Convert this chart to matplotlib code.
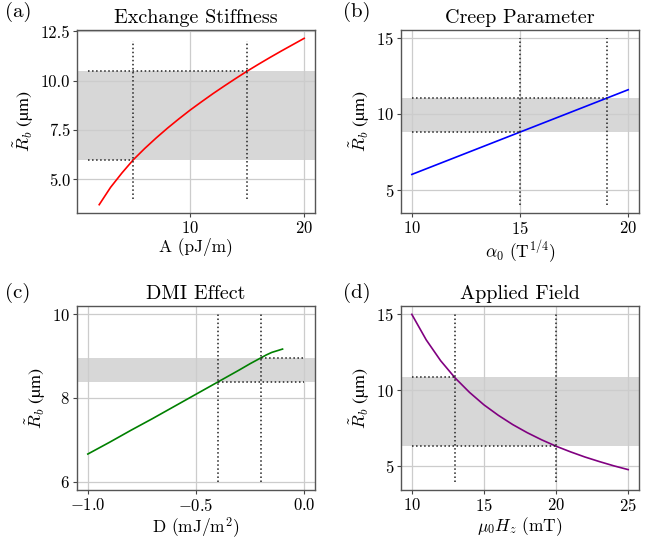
import matplotlib
matplotlib.use("Agg")
import matplotlib.pyplot as plt

plt.rcParams["font.family"] = ["cmr10", "DejaVu Serif"]
plt.rcParams["mathtext.fontset"] = "cm"
plt.rcParams["axes.formatter.use_mathtext"] = True
plt.rcParams["axes.unicode_minus"] = True

# ---------------- data ----------------
A_vals = [2, 3, 4, 5, 6, 7, 8, 9, 10, 11, 12, 13, 14, 15, 16, 17, 18, 19, 20]
R_A = [3.72, 4.60, 5.33, 6.00, 6.57, 7.10, 7.60, 8.07, 8.52, 8.94, 9.35,
       9.74, 10.12, 10.49, 10.84, 11.18, 11.51, 11.83, 12.15]
A_band = (6.0, 10.5)
A_marks = [5, 15]

alpha_vals = [10, 12, 14, 15, 16, 18, 19, 20]
R_alpha = [6.00, 7.12, 8.24, 8.80, 9.36, 10.48, 11.04, 11.60]
alpha_band = (8.80, 11.05)
alpha_marks = [15, 19]

D_vals = [-1.0, -0.9, -0.8, -0.7, -0.6, -0.5, -0.4, -0.3, -0.25, -0.2,
          -0.175, -0.15, -0.125, -0.1]
R_D = [6.66, 6.94, 7.23, 7.51, 7.80, 8.09, 8.38, 8.67, 8.82, 8.96,
       9.03, 9.09, 9.13, 9.17]
D_band = (8.38, 8.96)
D_marks = [-0.4, -0.2]

H_vals = [10, 11, 12, 13, 14, 15, 16, 17, 18, 19, 20, 21, 22, 23, 24, 25]
R_H = [15.0, 13.32, 11.95, 10.82, 9.87, 9.05, 8.36, 7.75, 7.22, 6.75,
       6.33, 5.96, 5.62, 5.32, 5.04, 4.79]
H_band = (6.33, 10.85)
H_marks = [13, 20]

# ---------------- figure ----------------
fig = plt.figure(figsize=(6.65, 5.39), dpi=100)
W, Hf = 665.0, 539.0


def make_ax(l, t, r, b):
    return fig.add_axes([l / W, 1 - b / Hf, (r - l) / W, (b - t) / Hf])


axa = make_ax(77, 30, 315, 213)
axb = make_ax(401, 30, 639, 213)
axc = make_ax(77, 306, 315, 490)
axd = make_ax(401, 306, 639, 490)

dot = dict(color="#222222", linestyle=":", linewidth=1.1)
band_kw = dict(color="#b0b0b0", alpha=0.5, linewidth=0, zorder=0.5)


def style(ax, title, xlabel):
    ax.set_title(title, fontsize=14.5, pad=5)
    ax.set_xlabel(xlabel, fontsize=12.5, labelpad=1)
    # cmr10 has no micro sign, so the unit is set in STIX
    ax.set_ylabel("$\\tilde{R}_b$ (\u00b5m)", fontsize=13, labelpad=3,
                  family=["STIXGeneral", "DejaVu Serif"])
    ax.grid(True, color="#cccccc", linewidth=0.9)
    ax.tick_params(labelsize=12, length=3, width=0.8, color="#444444", pad=2)
    for s in ax.spines.values():
        s.set_color("#555555")
        s.set_linewidth(1.0)


# (a) Exchange stiffness
axa.axhspan(*A_band, **band_kw)
axa.plot(A_vals, R_A, color="red", linewidth=1.2)
for xm in A_marks:
    axa.vlines(xm, 4, 12, **dot)
axa.hlines(A_band[0], 1, A_marks[0], **dot)
axa.hlines(A_band[1], 1, A_marks[1], **dot)
axa.set_xticks([10, 20])
axa.set_yticks([5.0, 7.5, 10.0, 12.5])
axa.yaxis.set_major_formatter(matplotlib.ticker.FormatStrFormatter("%.1f"))
style(axa, "Exchange Stiffness", "A (pJ/m)")

# (b) Creep parameter
axb.axhspan(*alpha_band, **band_kw)
axb.plot(alpha_vals, R_alpha, color="blue", linewidth=1.2)
for xm in alpha_marks:
    axb.vlines(xm, 4, 15, **dot)
axb.hlines(alpha_band[0], 10, alpha_marks[0], **dot)
axb.hlines(alpha_band[1], 10, alpha_marks[1], **dot)
axb.set_xticks([10, 15, 20])
axb.set_yticks([5, 10, 15])
style(axb, "Creep Parameter", r"$\alpha_0$ (T$^{1/4}$)")

# (c) DMI effect
axc.axhspan(*D_band, **band_kw)
axc.plot(D_vals, R_D, color="green", linewidth=1.2)
for xm in D_marks:
    axc.vlines(xm, 6, 10, **dot)
axc.hlines(D_band[0], D_marks[0], 0.0, **dot)
axc.hlines(D_band[1], D_marks[1], 0.0, **dot)
axc.set_xticks([-1.0, -0.5, 0.0])
axc.set_yticks([6, 8, 10])
axc.xaxis.set_major_formatter(matplotlib.ticker.FuncFormatter(
    lambda v, p: r"$%.1f$" % v))
style(axc, "DMI Effect", r"D (mJ/m$^2$)")

# (d) Applied field
axd.axhspan(*H_band, **band_kw)
axd.plot(H_vals, R_H, color="purple", linewidth=1.2)
for xm in H_marks:
    axd.vlines(xm, 4, 15, **dot)
axd.hlines(H_band[1], 10, H_marks[0], **dot)
axd.hlines(H_band[0], 10, H_marks[1], **dot)
axd.set_xticks([10, 15, 20, 25])
axd.set_yticks([5, 10, 15])
style(axd, "Applied Field", r"$\mu_0 H_z$ (mT)")

for lab, x, y in [("(a)", 5, 2), ("(b)", 343, 2), ("(c)", 5, 283), ("(d)", 343, 283)]:
    fig.text(x / W, 1 - y / Hf, lab, fontsize=15, va="top", ha="left")

fig.savefig("out.png", dpi=100)
